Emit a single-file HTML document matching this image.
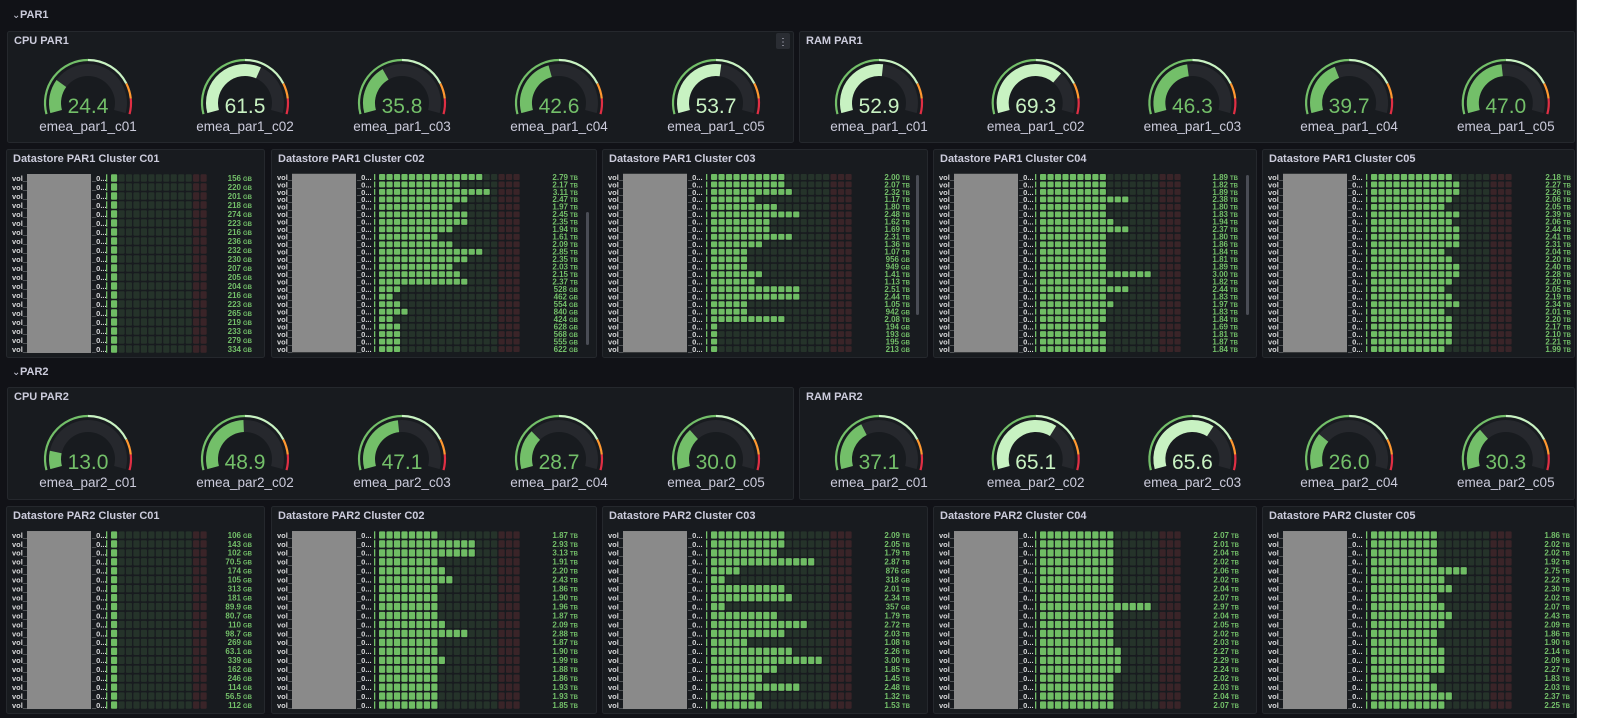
<!DOCTYPE html>
<html><head><meta charset="utf-8"><style>
html,body{margin:0;padding:0;background:#fff;width:1600px;height:718px;overflow:hidden}
svg{display:block}
text{font-family:"Liberation Sans",sans-serif}
</style></head><body>
<div id="root"></div>
<script>
const W=[];
function add(s){W.push(s);}
add('<svg xmlns="http://www.w3.org/2000/svg" width="1600" height="718" viewBox="0 0 1600 718">');
add('<rect x="0" y="0" width="1577" height="718" fill="#111217"/>');
add('<rect x="1576" y="0" width="1" height="718" fill="#2a2d33"/>');
function panel(x,y,w,h,title){
  add(`<rect x="${x+0.5}" y="${y+0.5}" width="${w-1}" height="${h-1}" rx="2" fill="#181b1f" stroke="#25282d"/>`);
  add(`<text x="${x+7}" y="${y+13}" font-size="11" font-weight="bold" fill="#ccccdc">${title}</text>`);
}
function rowHeader(y,t){
  add(`<text x="12" y="${y}" font-size="10" fill="#ccccdc">&#8964;</text>`);
  add(`<text x="20" y="${y}" font-size="11" font-weight="bold" fill="#ccccdc">${t}</text>`);
}
function pt(cx,cy,r,f){const a=(195-210*f)*Math.PI/180;return [cx+r*Math.cos(a),cy-r*Math.sin(a)];}
function arc(cx,cy,r,f0,f1,col,w){
  const p0=pt(cx,cy,r,f0),p1=pt(cx,cy,r,f1);const large=(f1-f0)*210>180?1:0;
  add(`<path d="M${p0[0].toFixed(2)},${p0[1].toFixed(2)} A${r},${r} 0 ${large} 1 ${p1[0].toFixed(2)},${p1[1].toFixed(2)}" fill="none" stroke="${col}" stroke-width="${w}"/>`);
}
function gauge(cx,cy,v,label){
  const col=v>50?'#c8f2c2':'#73bf69';
  arc(cx,cy,43,0,0.5,'#73bf69',2.2);
  arc(cx,cy,43,0.5,0.8,'#c8f2c2',2.2);
  arc(cx,cy,43,0.8,0.9,'#ff9830',2.2);
  arc(cx,cy,43,0.9,1,'#e02f44',2.2);
  arc(cx,cy,33,0,1,'#26282d',12);
  arc(cx,cy,33,0,v/100,col,12);
  add(`<text x="${cx}" y="${cy+10}" font-size="21" text-anchor="middle" fill="${col}">${v.toFixed(1)}</text>`);
  add(`<text x="${cx}" y="${cy+28}" font-size="13.5" text-anchor="middle" fill="#ccccdc">${label}</text>`);
}
function gaugePanel(x,y,w,h,title,vals,pre,c0,pitch){
  panel(x,y,w,h,title);
  vals.forEach((v,i)=>gauge(c0+pitch*i,y+72,v,pre+'_c0'+(i+1)));
}
function parse(s){ // returns [TB value, text, unit]
  if(s.endsWith('G')){const n=s.slice(0,-1);return [parseFloat(n)/1000,n,'GB'];}
  return [parseFloat(s),s,'TB'];
}
function ds(cfg){
  const {x,y,w,h,title,vals,cx,n,red,vr,k,y0,p,scroll}=cfg;
  panel(x,y,w,h,title);
  const ch=p-1.6, cp=(n===13?7.46:7.47), cw=cp-1.3;
  const top=y0-p/2+0.5, bot=y0+(vals.length-1)*p+p/2-0.5;
  vals.forEach((s,i)=>{
    const [tb,txt,u]=parse(s);
    const cyy=y0+i*p;
    let lit=Math.max(1,Math.round(tb*k));
    add(`<text x="${x+6}" y="${cyy+2.8}" font-size="7.5" font-weight="bold" fill="#d8d9da">vol_</text>`);
    add(`<text x="${x+86}" y="${cyy+2.8}" font-size="7.5" font-weight="bold" fill="#d8d9da">_0...</text>`);
    add(`<rect x="${cx-5}" y="${cyy-ch/2}" width="1.3" height="${ch}" fill="#73bf69"/>`);
    for(let j=0;j<n;j++){
      let f;
      if(j<lit && j<n-red) f='#6fbd64';
      else if(j>=n-red) f='#3a2428';
      else f='#25332a';
      add(`<rect x="${(cx+j*cp).toFixed(2)}" y="${(cyy-ch/2).toFixed(2)}" width="${cw.toFixed(2)}" height="${ch.toFixed(2)}" rx="1" fill="${f}"/>`);
    }
    add(`<text x="${vr}" y="${cyy+2.8}" text-anchor="end" font-weight="bold" fill="#73bf69"><tspan font-size="8">${txt}</tspan><tspan font-size="6" dx="2">${u}</tspan></text>`);
  });
  add(`<rect x="${x+21}" y="${top}" width="64" height="${bot-top}" fill="#8a8a8a"/>`);
  if(scroll) add(`<rect x="${scroll[0]}" y="${scroll[1]}" width="3" height="${scroll[2]}" rx="1.5" fill="#4a4d55"/>`);
}
// Row PAR1
rowHeader(18,'PAR1');
gaugePanel(7,31,787,112,'CPU PAR1',[24.4,61.5,35.8,42.6,53.7],'emea_par1',88,157);
add('<rect x="776" y="33" width="14" height="16" rx="2" fill="#2a2d33"/><text x="783" y="45" font-size="10" text-anchor="middle" fill="#ccccdc">&#8942;</text>');
gaugePanel(799,31,776,112,'RAM PAR1',[52.9,69.3,46.3,39.7,47.0],'emea_par1',879,156.7);
const Y1=149,H1=209,Y2=506,H2=208;
ds({x:6,y:Y1,w:259,h:H1,title:'Datastore PAR1 Cluster C01',vals:['156G','220G','201G','218G','274G','223G','216G','236G','232G','230G','207G','205G','204G','216G','223G','265G','219G','233G','279G','334G'],cx:111,n:13,red:2,vr:252,k:3.9,y0:178,p:9});
ds({x:271,y:Y1,w:326,h:H1,title:'Datastore PAR1 Cluster C02',vals:['2.79','2.17','3.11','2.47','1.97','2.45','2.35','1.94','1.61','2.09','2.85','2.35','2.03','2.15','2.37','528G','462G','554G','840G','424G','628G','568G','555G','622G'],cx:379,n:19,red:3,vr:578,k:4.9,y0:177,p:7.48,scroll:[586,212,133]});
ds({x:602,y:Y1,w:326,h:H1,title:'Datastore PAR1 Cluster C03',vals:['2.00','2.07','2.32','1.17','1.80','2.48','1.62','1.69','2.31','1.36','1.07','956G','949G','1.41','1.13','2.51','2.44','1.05','942G','2.08','194G','193G','195G','213G'],cx:711,n:19,red:3,vr:910,k:4.9,y0:177,p:7.48,scroll:[916,175,140]});
ds({x:933,y:Y1,w:324,h:H1,title:'Datastore PAR1 Cluster C04',vals:['1.89','1.82','1.89','2.38','1.80','1.83','1.94','2.37','1.80','1.86','1.84','1.81','1.89','3.00','1.82','2.44','1.83','1.97','1.83','1.84','1.69','1.81','1.87','1.84'],cx:1040,n:19,red:3,vr:1238,k:4.9,y0:177,p:7.48,scroll:[1246,175,140]});
ds({x:1262,y:Y1,w:313,h:H1,title:'Datastore PAR1 Cluster C05',vals:['2.18','2.27','2.26','2.06','2.05','2.39','2.06','2.44','2.41','2.31','2.04','2.20','2.40','2.28','2.20','2.05','2.19','2.34','2.01','2.20','2.17','2.10','2.21','1.99'],cx:1371,n:19,red:3,vr:1571,k:5.1,y0:177,p:7.48});
// Row PAR2
rowHeader(375,'PAR2');
gaugePanel(7,387,787,113,'CPU PAR2',[13.0,48.9,47.1,28.7,30.0],'emea_par2',88,157);
gaugePanel(799,387,776,113,'RAM PAR2',[37.1,65.1,65.6,26.0,30.3],'emea_par2',879,156.7);
ds({x:6,y:Y2,w:259,h:H2,title:'Datastore PAR2 Cluster C01',vals:['106G','143G','102G','70.5G','174G','105G','313G','181G','89.9G','80.7G','110G','98.7G','269G','63.1G','339G','162G','246G','114G','56.5G','112G'],cx:111,n:13,red:2,vr:252,k:3.9,y0:535,p:8.95});
ds({x:271,y:Y2,w:326,h:H2,title:'Datastore PAR2 Cluster C02',vals:['1.87','2.93','3.13','1.91','2.20','2.43','1.86','1.90','1.96','1.87','2.09','2.88','1.87','1.90','1.99','1.88','1.86','1.93','1.93','1.85'],cx:379,n:19,red:3,vr:578,k:4.3,y0:535,p:8.95});
ds({x:602,y:Y2,w:326,h:H2,title:'Datastore PAR2 Cluster C03',vals:['2.09','2.05','1.79','2.87','876G','318G','2.01','2.34','357G','1.79','2.72','2.03','1.08','2.26','3.00','1.85','1.45','2.48','1.32','1.53'],cx:711,n:19,red:3,vr:910,k:4.9,y0:535,p:8.95});
ds({x:933,y:Y2,w:324,h:H2,title:'Datastore PAR2 Cluster C04',vals:['2.07','2.01','2.04','2.02','2.06','2.02','2.04','2.07','2.97','2.04','2.05','2.02','2.03','2.27','2.29','2.24','2.02','2.03','2.04','2.07'],cx:1040,n:19,red:3,vr:1239,k:4.9,y0:535,p:8.95});
ds({x:1262,y:Y2,w:313,h:H2,title:'Datastore PAR2 Cluster C05',vals:['1.86','2.02','2.02','1.92','2.75','2.22','2.30','2.02','2.07','2.43','2.09','1.86','1.90','2.14','2.09','2.27','1.83','2.03','2.37','2.25'],cx:1371,n:19,red:3,vr:1570,k:4.6,y0:535,p:8.95});
add('</svg>');
document.getElementById('root').innerHTML=W.join('');
</script>
</body></html>
